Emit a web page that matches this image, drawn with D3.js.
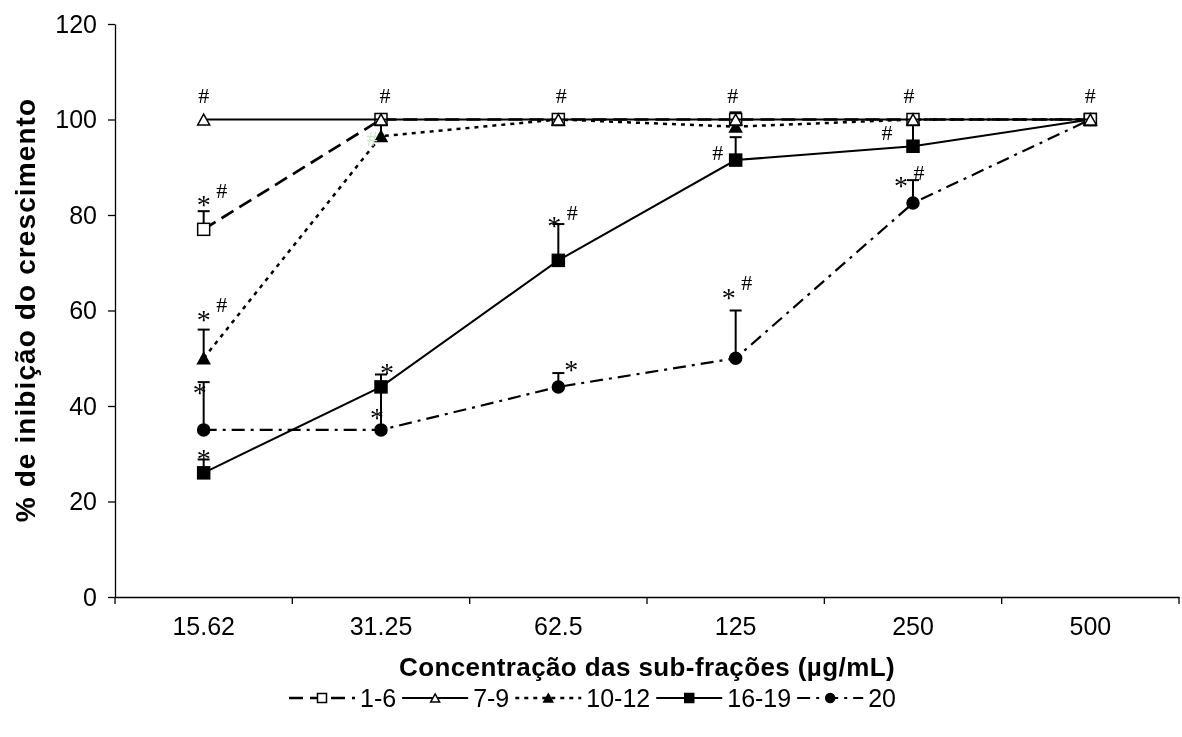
<!DOCTYPE html>
<html>
<head>
<meta charset="utf-8">
<script src="https://cdn.jsdelivr.net/npm/d3@7"></script>
<style>
  body { margin: 0; background: #fff; }
  svg { will-change: transform; }
  text { font-family: "Liberation Sans", Arial, sans-serif; }
  .mark { font-family: "Liberation Serif", "Times New Roman", serif; }
</style>
</head>
<body>
<svg id="chart" width="1182" height="737"></svg>
<script>
// data
const categories = ["15.62", "31.25", "62.5", "125", "250", "500"];
const yTicks = [0, 20, 40, 60, 80, 100, 120];
const seriesNames = ["1-6", "7-9", "10-12", "16-19", "20"];

const v1_6 = [77, 100, 100, 100, 100, 100];
const e1_6 = [3.8, 0, 1, 1.5, 1, 0];
const v7_9 = [100, 100, 100, 100, 100, 100];
const e7_9 = [0, 0, 0, 0, 0, 0];
const v10_12 = [50, 96.5, 100, 98.5, 100, 100];
const e10_12 = [6, 3.5, 0, 0, 0, 0];
const v16_19 = [26, 44, 70.5, 91.5, 94.4, 100];
const e16_19 = [2.8, 2.6, 7.6, 4.8, 5.6, 0];
const v20 = [35, 35, 44, 50, 82.5, 100];
const e20 = [10, 8.5, 2.9, 10, 4.8, 0];

// significance marks: category index, value, symbol, horizontal nudge
const marks = [
  [0, 103.5, "#", 0], [1, 103.5, "#", 4], [2, 103.5, "#", 3],
  [3, 103.5, "#", -3], [4, 103.5, "#", -4], [5, 103.5, "#", 0],
  [0, 82, "*", 0], [0, 83.5, "#", 18],
  [0, 58, "*", 0], [0, 59.7, "#", 18],
  [0, 42.7, "*", -4], [0, 29, "*", 0],
  [1, 47, "*", 6], [1, 37.5, "*", -4],
  [2, 77.7, "*", -4], [2, 79, "#", 14], [2, 47.5, "*", 13],
  [3, 91.5, "#", -18], [3, 62.6, "*", -7], [3, 64.3, "#", 11],
  [4, 95.7, "#", -26], [4, 86, "*", -12], [4, 87.3, "#", 6]
];
const faintMarks = [[1, 94.5, "#", -9]];

const series = [
  { name: "20", values: v20, errors: e20, shape: "circle", fill: "#000", dash: "13,6,3,6", width: 2.2 },
  { name: "16-19", values: v16_19, errors: e16_19, shape: "square", fill: "#000", dash: null, width: 2 },
  { name: "10-12", values: v10_12, errors: e10_12, shape: "triangle", fill: "#000", dash: "4,5", width: 2.5 },
  { name: "1-6", values: v1_6, errors: e1_6, shape: "square", fill: "#fff", dash: "14,7", width: 2.7 },
  { name: "7-9", values: v7_9, errors: e7_9, shape: "triangle", fill: "#fff", dash: null, width: 2 }
];

let svg = d3.select("#chart");

let x = d3.scaleBand().domain(categories).range([115, 1179]);
let y = d3.scaleLinear().domain([0, 120]).range([597, 24]);
let cx = c => x(c) + x.bandwidth() / 2;

// y axis
svg.append("g")
  .attr("transform", "translate(115,0)")
  .call(d3.axisLeft(y).tickValues(yTicks).tickSize(7).tickSizeOuter(0).tickPadding(11))
  .call(g => g.selectAll("text").style("font-size", "25px").attr("fill", "#000"))
  .call(g => g.selectAll("line,path").attr("stroke", "#000").attr("stroke-width", 1.3));

// x axis, labels centred in the bands, ticks on the band edges
svg.append("g")
  .attr("transform", "translate(0,597)")
  .call(d3.axisBottom(x).tickSize(0).tickPadding(20).tickSizeOuter(0))
  .call(g => g.selectAll("text").style("font-size", "25px").attr("fill", "#000"))
  .call(g => g.select("path").attr("stroke", "#000").attr("stroke-width", 1.3));

svg.append("g")
  .selectAll("line")
  .data(categories.map(c => x(c)).concat([x.range()[1]]))
  .join("line")
  .attr("x1", d => d).attr("x2", d => d)
  .attr("y1", 597).attr("y2", 604)
  .attr("stroke", "#000").attr("stroke-width", 1.3);

// axis titles
svg.append("text")
  .text("Concentração das sub-frações (µg/mL)")
  .attr("x", 647).attr("y", 676)
  .style("text-anchor", "middle")
  .style("letter-spacing", "0.4px")
  .style("font-size", "26px").style("font-weight", "bold");

svg.append("text")
  .text("% de inibição do crescimento")
  .attr("transform", "translate(35,310) rotate(-90)")
  .style("text-anchor", "middle")
  .style("letter-spacing", "1.1px")
  .style("font-size", "28px").style("font-weight", "bold");

function drawMarker(g, shape, fill, px, py, size) {
  if (shape === "circle") {
    g.append("circle").attr("cx", px).attr("cy", py).attr("r", size / 2)
      .attr("fill", fill).attr("stroke", "#000").attr("stroke-width", 1.5);
  } else if (shape === "square") {
    g.append("rect").attr("x", px - size / 2).attr("y", py - size / 2)
      .attr("width", size).attr("height", size)
      .attr("fill", fill).attr("stroke", "#000").attr("stroke-width", 1.5);
  } else {
    let h = size * 0.9;
    g.append("path")
      .attr("d", `M${px},${py - h / 2}L${px + size / 2},${py + h / 2}L${px - size / 2},${py + h / 2}Z`)
      .attr("fill", fill).attr("stroke", "#000").attr("stroke-width", 1.5);
  }
}

let line = d3.line().x((d, i) => cx(categories[i])).y(d => y(d));

series.forEach(s => {
  let g = svg.append("g").classed("series", true);

  // error bars (upper only)
  s.values.forEach((v, i) => {
    if (!s.errors[i]) return;
    let px = cx(categories[i]);
    g.append("line").attr("x1", px).attr("x2", px)
      .attr("y1", y(v)).attr("y2", y(v + s.errors[i]))
      .attr("stroke", "#000").attr("stroke-width", 2);
    g.append("line").attr("x1", px - 6).attr("x2", px + 6)
      .attr("y1", y(v + s.errors[i])).attr("y2", y(v + s.errors[i]))
      .attr("stroke", "#000").attr("stroke-width", 2);
  });

  g.append("path")
    .attr("d", line(s.values))
    .attr("fill", "none")
    .attr("stroke", "#000")
    .attr("stroke-width", s.width)
    .attr("stroke-dasharray", s.dash);

  s.values.forEach((v, i) => drawMarker(g, s.shape, s.fill, cx(categories[i]), y(v), 12));
});

// significance marks
svg.append("g")
  .selectAll("text")
  .data(marks)
  .join("text")
  .classed("mark", true)
  .attr("x", d => cx(categories[d[0]]) + d[3])
  .attr("y", d => y(d[1]) + (d[2] === "*" ? 9 : 0))
  .style("text-anchor", "middle")
  .style("font-size", d => d[2] === "*" ? "28px" : "22px")
  .attr("fill", "#000")
  .text(d => d[2]);

svg.append("g")
  .selectAll("text")
  .data(faintMarks)
  .join("text")
  .classed("mark", true)
  .attr("x", d => cx(categories[d[0]]) + d[3])
  .attr("y", d => y(d[1]))
  .style("text-anchor", "middle")
  .style("font-size", "22px")
  .attr("fill", "#c4ecc4")
  .text(d => d[2]);

// legend
let legendOrder = seriesNames.map(n => series.find(s => s.name === n));
let legend = svg.append("g").attr("transform", "translate(289,698)");
let lx = 0;
legendOrder.forEach(s => {
  let item = legend.append("g").attr("transform", `translate(${lx},0)`);
  item.append("line")
    .attr("x1", 0).attr("x2", 66).attr("y1", 0).attr("y2", 0)
    .attr("stroke", "#000").attr("stroke-width", s.width)
    .attr("stroke-dasharray", s.dash);
  drawMarker(item, s.shape, s.fill, 33, 0, 9);
  let t = item.append("text")
    .text(s.name)
    .attr("x", 71).attr("y", 9)
    .style("font-size", "25px");
  lx += 71 + t.node().getComputedTextLength() + 6;
});
</script>
</body>
</html>
